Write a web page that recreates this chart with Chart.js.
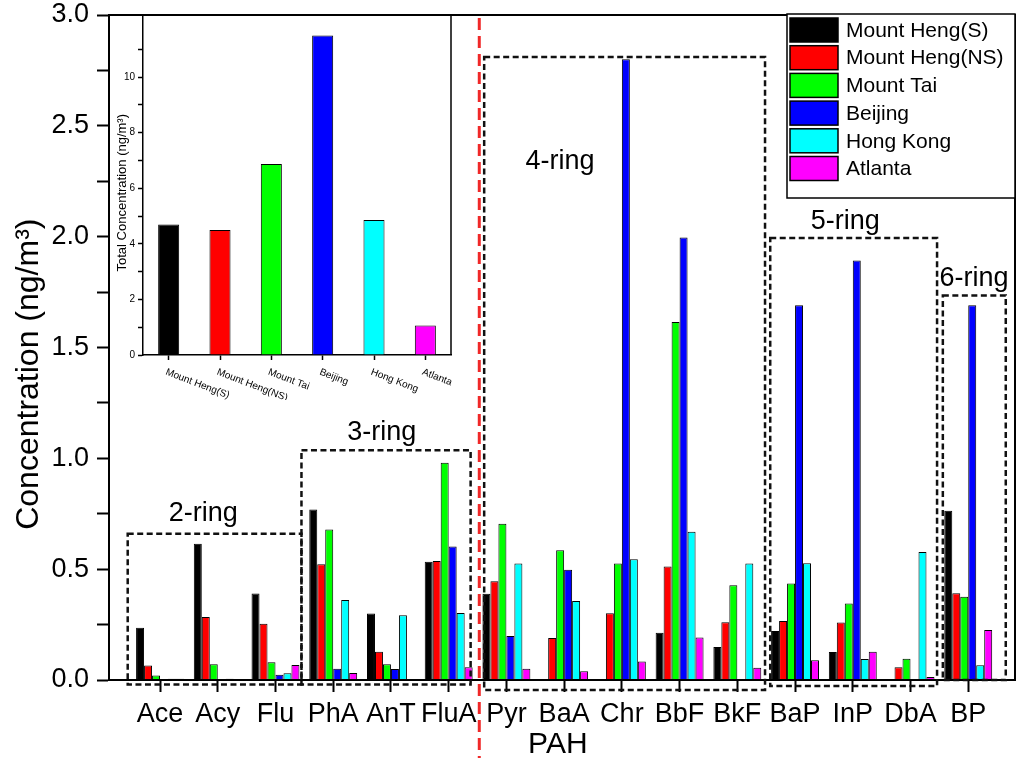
<!DOCTYPE html>
<html>
<head>
<meta charset="utf-8">
<script src="https://cdn.jsdelivr.net/npm/chart.js@4.4.1/dist/chart.umd.min.js"></script>
<style>
  body { margin: 0; background: #fff; overflow: hidden; }
  #wrap { position: relative; width: 1024px; height: 767px; }
  #main { position: absolute; left: 0; top: 0; }
  #inset { position: absolute; left: 100px; top: 0; }
</style>
</head>
<body>
<div id="wrap">
  <canvas id="main" width="1024" height="767"></canvas>
  <canvas id="inset" width="360" height="400"></canvas>
</div>
<script>
const FONT = '"Liberation Sans", Arial, sans-serif';
const NBSP = '\u00a0';

const pahs = ['Ace', 'Acy', 'Flu', 'PhA', 'AnT', 'FluA', 'Pyr', 'BaA', 'Chr', 'BbF', 'BkF', 'BaP', 'InP', 'DbA', 'BP'];
const sites = ['Mount Heng(S)', 'Mount Heng(NS)', 'Mount Tai', 'Beijing', 'Hong Kong', 'Atlanta'];
const siteColors = ['#000000', '#ff0000', '#00ff00', '#0000ff', '#00ffff', '#ff00ff'];

// concentrations per PAH (ng/m3)
const hengS = [0.236, 0.615, 0.39, 0.769, 0.30, 0.534, 0.389, null, null, 0.213, 0.149, 0.221, 0.126, null, 0.763];
const hengNS = [0.065, 0.284, 0.254, 0.522, 0.128, 0.537, 0.446, 0.19, 0.301, 0.512, 0.261, 0.266, 0.259, 0.057, 0.391];
const tai = [0.02, 0.071, 0.08, 0.679, 0.071, 0.98, 0.705, 0.585, 0.526, 1.615, 0.427, 0.435, 0.345, 0.096, 0.376];
const beijing = [null, null, 0.024, 0.051, 0.05, 0.602, 0.198, 0.497, 2.80, 1.996, null, 1.691, 1.892, null, 1.691];
const hongKong = [0.006, 0.006, 0.03, 0.361, 0.292, 0.302, 0.526, 0.356, 0.545, 0.669, 0.526, 0.527, 0.095, 0.578, 0.066];
const atlanta = [0.006, 0.005, 0.068, 0.032, 0.005, 0.057, 0.051, 0.04, 0.084, 0.192, 0.055, 0.089, 0.128, 0.014, 0.226];

// inset: total concentration per site
const totals = [4.70, 4.50, 6.87, 11.50, 4.86, 1.06];

// dashed boxes around ring groups, in axis units
const ringGroups = [
  { label: '2-ring', x0: -0.56, x1: 2.45, y0: -0.02, y1: 0.66, lx: 0.75, ly: 0.75 },
  { label: '3-ring', x0: 2.45, x1: 5.38, y0: -0.02, y1: 1.037, lx: 3.84, ly: 1.115 },
  { label: '4-ring', x0: 5.615, x1: 10.48, y0: -0.045, y1: 2.81, lx: 6.93, ly: 2.34 },
  { label: '5-ring', x0: 10.57, x1: 13.46, y0: -0.027, y1: 1.994, lx: 11.87, ly: 2.07 },
  { label: '6-ring', x0: 13.56, x1: 14.65, y0: 0, y1: 1.735, lx: 14.1, ly: 1.81 },
];
const dividerAt = 5.53;

const decorations = {
  id: 'decorations',
  afterDraw(chart) {
    const { ctx, chartArea: a, scales: { x, y } } = chart;
    ctx.save();

    // frame
    ctx.strokeStyle = '#000';
    ctx.lineWidth = 2;
    ctx.strokeRect(a.left, a.top, a.right - a.left, a.bottom - a.top);

    // ring boxes
    ctx.setLineDash([6, 3.5]);
    ctx.lineWidth = 2.5;
    ctx.strokeStyle = '#111';
    ringGroups.forEach((g) => {
      const l = x.getPixelForValue(g.x0);
      const r = x.getPixelForValue(g.x1);
      const t = y.getPixelForValue(g.y1);
      const b = y.getPixelForValue(g.y0);
      ctx.strokeRect(l, t, r - l, b - t);
    });

    ctx.setLineDash([]);
    ctx.fillStyle = '#000';
    ctx.font = '27px ' + FONT;
    ctx.textAlign = 'center';
    ctx.textBaseline = 'middle';
    ringGroups.forEach((g) => {
      ctx.fillText(g.label, x.getPixelForValue(g.lx), y.getPixelForValue(g.ly));
    });

    // red divider between 3-ring and 4-ring
    const dx = x.getPixelForValue(dividerAt);
    ctx.setLineDash([12, 6]);
    ctx.strokeStyle = '#f02828';
    ctx.lineWidth = 3;
    ctx.beginPath();
    ctx.moveTo(dx, a.top + 3);
    ctx.lineTo(dx, 758);
    ctx.stroke();

    // legend
    ctx.setLineDash([]);
    const lx = 787;
    const ly = a.top - 1;
    ctx.fillStyle = '#fff';
    ctx.fillRect(lx, ly, a.right - lx, 184);
    ctx.strokeStyle = '#000';
    ctx.lineWidth = 1.5;
    ctx.strokeRect(lx, ly, a.right - lx, 184);
    ctx.font = '21px ' + FONT;
    ctx.textAlign = 'left';
    sites.forEach((name, k) => {
      const cy = a.top + 15 + 27.7 * k;
      ctx.fillStyle = siteColors[k];
      ctx.fillRect(790, cy - 12, 48, 24);
      ctx.strokeRect(790, cy - 12, 48, 24);
      ctx.fillStyle = '#000';
      ctx.fillText(name, 846, cy + 1);
    });

    ctx.restore();
  },
};

function buildMainChart() {
  const series = [hengS, hengNS, tai, beijing, hongKong, atlanta];
  const datasets = series.map((values, k) => ({
    label: sites[k],
    data: values.map((v, i) => ({ x: i, y: v })),
    backgroundColor: siteColors[k],
    borderColor: '#000',
    borderWidth: 1,
    categoryPercentage: 0.83,
    barPercentage: 1,
  }));

  const config = {
    type: 'bar',
    data: { datasets },
    options: {
      responsive: false,
      animation: false,
      layout: { padding: { top: 15, right: 9, left: 0, bottom: 0 } },
      plugins: {
        legend: { display: false },
        tooltip: { enabled: false },
      },
      scales: {
        x: {
          type: 'linear',
          bounds: 'data',
          offset: false,
          min: -0.884,
          max: 14.81,
          afterBuildTicks: (s) => {
            s.ticks = pahs.map((_, i) => ({ value: i }));
          },
          afterFit: (s) => {
            s.height = 87;
            s.paddingLeft = 0;
            s.paddingRight = 0;
          },
          ticks: {
            callback: (v) => pahs[v],
            autoSkip: false,
            maxRotation: 0,
            color: '#000',
            padding: 6,
            font: { family: FONT, size: 27 },
          },
          grid: { offset: false, drawOnChartArea: false, tickLength: 12, tickWidth: 2, tickColor: '#000' },
          border: { color: '#000', width: 2 },
          title: {
            display: true,
            text: 'PAH' + NBSP,
            color: '#000',
            font: { family: FONT, size: 30 },
            padding: { top: 0, bottom: 4 },
          },
        },
        y: {
          min: 0,
          max: 3,
          afterFit: (s) => {
            s.width = 109;
            s.paddingTop = 0;
            s.paddingBottom = 0;
          },
          ticks: {
            stepSize: 0.25,
            autoSkip: false,
            callback: (v) => ((v * 2) % 1 === 0 ? v.toFixed(1) : ''),
            color: '#000',
            padding: 8,
            font: { family: FONT, size: 27, lineHeight: 1 },
          },
          grid: { drawOnChartArea: false, tickLength: 12, tickWidth: 2, tickColor: '#000' },
          border: { color: '#000', width: 2 },
          title: {
            display: true,
            text: 'Concentration (ng/m³)' + NBSP.repeat(6),
            color: '#000',
            font: { family: FONT, size: 32 },
            padding: { top: 10, bottom: 0 },
          },
        },
      },
    },
    plugins: [decorations],
  };

  new Chart(document.getElementById('main'), config);
}

const insetLabels = {
  id: 'insetLabels',
  afterDraw(chart) {
    const { ctx, chartArea: a, scales: { x } } = chart;
    ctx.save();
    ctx.strokeStyle = '#000';
    ctx.lineWidth = 1.5;
    ctx.beginPath();
    ctx.moveTo(a.right, a.top);
    ctx.lineTo(a.right, a.bottom);
    ctx.stroke();

    ctx.fillStyle = '#000';
    ctx.font = '10px ' + FONT;
    ctx.textAlign = 'left';
    ctx.textBaseline = 'top';
    sites.forEach((name, i) => {
      ctx.save();
      ctx.translate(x.getPixelForTick(i) - 1, a.bottom + 12);
      ctx.rotate((21 * Math.PI) / 180);
      ctx.fillText(name, 0, 0);
      ctx.restore();
    });
    ctx.restore();
  },
};

function buildInsetChart() {
  const config = {
    type: 'bar',
    data: {
      labels: sites,
      datasets: [
        {
          data: totals,
          backgroundColor: siteColors,
          borderColor: '#000',
          borderWidth: 1,
          barPercentage: 0.41,
          categoryPercentage: 1,
        },
      ],
    },
    options: {
      responsive: false,
      animation: false,
      layout: { padding: { top: 16, right: 9, left: 0, bottom: 0 } },
      plugins: {
        legend: { display: false },
        tooltip: { enabled: false },
      },
      scales: {
        x: {
          afterFit: (s) => {
            s.height = 45;
          },
          ticks: { callback: () => '' },
          grid: { offset: false, drawOnChartArea: false, tickLength: 5, tickWidth: 1.5, tickColor: '#000' },
          border: { color: '#000', width: 1.5 },
        },
        y: {
          min: 0,
          max: 12.2,
          afterBuildTicks: (s) => {
            s.ticks = s.ticks.filter((t) => Number.isInteger(t.value));
          },
          afterFit: (s) => {
            s.width = 43;
          },
          ticks: {
            stepSize: 1,
            callback: (v) => (v % 2 === 0 ? v : ''),
            color: '#000',
            padding: 3,
            font: { family: FONT, size: 10, lineHeight: 1 },
          },
          grid: { drawOnChartArea: false, tickLength: 5, tickWidth: 1.5, tickColor: '#000' },
          border: { color: '#000', width: 1.5 },
          title: {
            display: true,
            text: 'Total Concentration (ng/m³)' + NBSP.repeat(4),
            color: '#000',
            font: { family: FONT, size: 13 },
            padding: { top: 15, bottom: 0 },
          },
        },
      },
    },
    plugins: [insetLabels],
  };

  new Chart(document.getElementById('inset'), config);
}

buildMainChart();
buildInsetChart();
</script>
</body>
</html>
